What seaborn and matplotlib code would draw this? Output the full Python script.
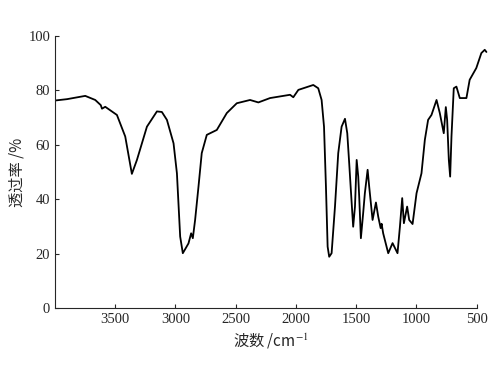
import matplotlib
matplotlib.use('Agg')
import matplotlib.pyplot as plt
import seaborn as sns
import pandas as pd

sns.set_style('ticks')
plt.rcParams['font.family'] = ['Liberation Serif', 'DejaVu Sans']
plt.rcParams['mathtext.fontset'] = 'stix'

# IR spectrum
wavenumber = [4000, 3900, 3749, 3666, 3620, 3610, 3583, 3486, 3417, 3362, 3320,
              3237, 3154, 3113, 3071, 3016, 2988, 2961, 2939, 2892, 2870, 2856,
              2837, 2809, 2782, 2740, 2657, 2574, 2491, 2381, 2312, 2215, 2049,
              2022, 1980, 1856, 1815, 1787, 1767, 1751, 1737, 1724, 1704, 1676,
              1649, 1621, 1593, 1574, 1558, 1546, 1525, 1510, 1496, 1483, 1475,
              1461, 1442, 1428, 1405, 1392, 1364, 1336, 1317, 1297, 1289, 1276,
              1234, 1198, 1157, 1137, 1118, 1104, 1077, 1060, 1032, 999, 958,
              930, 903, 875, 833, 806, 773, 756, 745, 731, 720, 709, 690, 668,
              640, 585, 558, 503, 461, 433, 419]
transmittance = [76.2, 76.7, 77.9, 76.4, 74.5, 73.2, 73.9, 70.9, 63.0, 49.3, 54.4,
                 66.6, 72.2, 72.0, 69.1, 60.5, 49.5, 26.3, 20.2, 23.8, 27.5, 25.7,
                 32.4, 44.6, 56.9, 63.6, 65.4, 71.6, 75.2, 76.4, 75.5, 77.1, 78.3,
                 77.4, 80.1, 81.9, 80.7, 76.4, 66.6, 44.6, 22.6, 18.9, 20.2, 37.3,
                 56.9, 66.6, 69.5, 64.2, 53.2, 44.6, 29.9, 37.3, 54.4, 48.3, 41.0,
                 25.7, 34.9, 42.2, 50.8, 44.6, 32.4, 38.8, 33.6, 29.4, 31.0, 27.5,
                 20.2, 23.9, 20.2, 29.9, 40.4, 31.2, 37.3, 32.4, 30.9, 42.2, 49.5,
                 61.8, 69.1, 70.9, 76.4, 71.6, 64.2, 73.8, 69.1, 54.4, 48.3, 63.0,
                 80.7, 81.3, 77.1, 77.1, 83.8, 88.1, 93.6, 94.8, 94.0]

x_ticks = [3500, 3000, 2500, 2000, 1500, 1000, 500]
y_ticks = [0, 20, 40, 60, 80, 100]

df = pd.DataFrame({'wn': wavenumber, 'T': transmittance})

fig = plt.figure(figsize=(5, 3.73), dpi=100)
ax = fig.add_axes([0.11, 0.1735, 0.865, 0.731])
sns.lineplot(data=df, x='wn', y='T', sort=False, color='black', linewidth=1.3, ax=ax)

ax.set_xlim(4000, 410)
ax.set_ylim(0, 100)
ax.set_xticks(x_ticks)
ax.set_yticks(y_ticks)
ax.tick_params(direction='in', length=3, width=0.8, labelsize=10.5)
sns.despine(ax=ax)
ax.spines['bottom'].set_bounds(4000, 500)

cjk = ['Noto Sans CJK SC', 'DejaVu Sans']
ax.set_xlabel('波数 /cm$^{-1}$', fontsize=11, family=cjk)
ax.set_ylabel('透过率 /%', fontsize=11, family=cjk, labelpad=2)

fig.savefig('out.png', dpi=100)
